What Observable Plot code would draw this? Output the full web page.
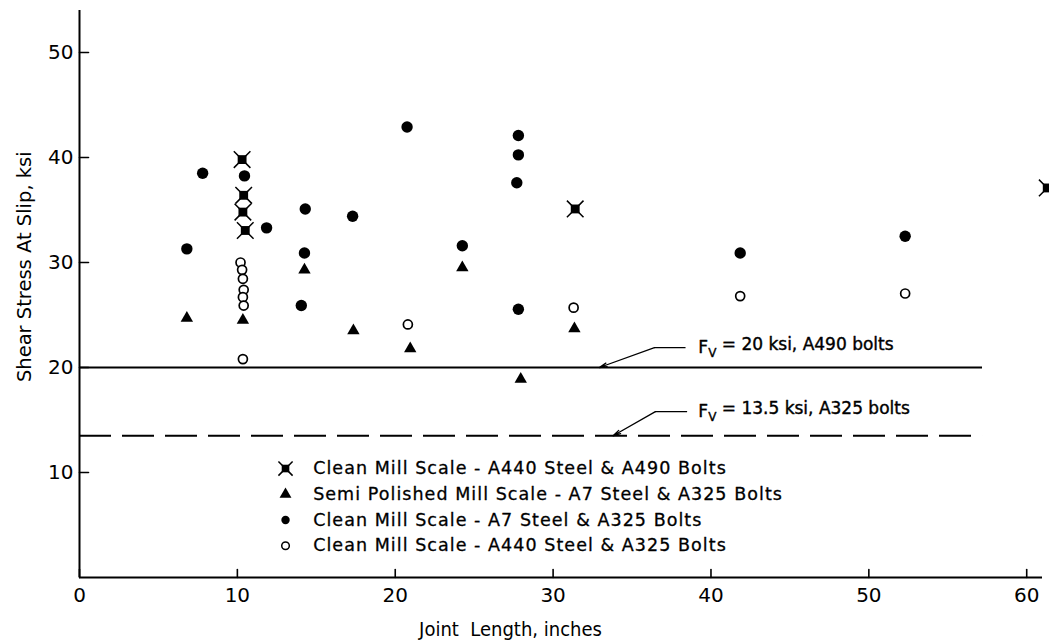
<!DOCTYPE html>
<html><head><meta charset="utf-8">
<script src="https://cdn.jsdelivr.net/npm/d3@7"></script>
<script src="https://cdn.jsdelivr.net/npm/@observablehq/plot@0.6"></script>
<style>
html,body{margin:0;padding:0;background:#fff;}
#chart{width:1049px;height:642px;overflow:hidden;}
</style></head><body><div id="chart"></div>
<script>
// ---- data (joint length in inches, shear stress at slip in ksi) ----
const a490X = [10.3, 10.4, 10.35, 10.5, 31.4, 61.3];
const a490Y = [39.8, 36.4, 34.8, 33.05, 35.1, 37.1];
const semiX = [6.8, 10.35, 14.25, 17.35, 20.95, 24.25, 27.95, 31.35];
const semiY = [24.7, 24.5, 29.3, 23.5, 21.8, 29.5, 18.9, 23.7];
const a7X = [6.8, 7.8, 10.45, 11.85, 14.3, 14.25, 14.05, 17.3, 20.75, 24.25, 27.8, 27.8, 27.7, 27.8, 41.85, 52.3];
const a7Y = [31.3, 38.5, 38.25, 33.3, 35.1, 30.9, 25.9, 34.4, 42.9, 31.6, 42.1, 40.25, 37.6, 25.55, 30.9, 32.5];
const a440X = [10.2, 10.3, 10.35, 10.4, 10.35, 10.4, 10.35, 20.8, 31.3, 41.85, 52.3];
const a440Y = [30.0, 29.3, 28.45, 27.4, 26.7, 25.9, 20.8, 24.1, 25.7, 26.8, 27.05];

// allowable shear stress lines
const allowValues = [20, 13.5];
const allowExtent = [0, 57.2];
const allowLabels = ["FV = 20 ksi, A490 bolts", "FV = 13.5 ksi, A325 bolts"];

// axes
const xTicks = [0, 10, 20, 30, 40, 50, 60];
const yTicks = [10, 20, 30, 40, 50];
const xTitle = "Joint  Length, inches";
const yTitle = "Shear Stress At Slip, ksi";

// legend
const legendLabels = [
  "Clean Mill Scale - A440 Steel & A490 Bolts",
  "Semi Polished Mill Scale - A7 Steel & A325 Bolts",
  "Clean Mill Scale - A7 Steel & A325 Bolts",
  "Clean Mill Scale - A440 Steel & A325 Bolts"
];

// ---- layout (annotation / legend anchors in data units) ----
const notes = [
  {value: 20,   tx: 39.2, ty: 21.9, hx: 38.42, hx2: 36.42, ax: 32.93},
  {value: 13.5, tx: 39.2, ty: 15.8, hx: 38.52, hx2: 36.48, ax: 33.8}
].map((n, i) => ({...n, label: allowLabels[i]}));
const legX = 13.05, legTextX = 14.8, legY0 = 10.38, legStep = 2.45;

const rows = (xs, ys) => xs.map((x, i) => ({x, y: ys[i]}));
const a490 = rows(a490X, a490Y), semi = rows(semiX, semiY), a7 = rows(a7X, a7Y), a440 = rows(a440X, a440Y);
const legend = legendLabels.map((label, i) => ({label, i, y: legY0 - i * legStep}));

const tickShape = {draw(ctx, l) { ctx.moveTo(0, 0); ctx.lineTo(0, -l); }};
const FONT = "DejaVu Sans";

const plot = Plot.plot({
  width: 1049, height: 642,
  marginLeft: 79, marginRight: 7, marginTop: 10, marginBottom: 65,
  x: {domain: [0, 61]},
  y: {domain: [0, 54]},
  style: {fontFamily: FONT, color: "black", background: "white", overflow: "visible"},
  marks: [
    Plot.axisX({ticks: xTicks, tickSize: 0, tickPadding: 10, fontSize: 20, label: null}),
    Plot.axisY({ticks: yTicks, tickSize: 0, tickPadding: 6, fontSize: 20, label: null}),
    Plot.ruleY([0], {stroke: "black", strokeWidth: 2}),
    Plot.ruleX([0], {stroke: "black", strokeWidth: 2}),
    Plot.vector(xTicks, {x: d => d, y: 0, length: 8, anchor: "start", rotate: 0, shape: tickShape, stroke: "black", strokeWidth: 1.6}),
    Plot.vector(yTicks, {x: 0, y: d => d, length: 9, anchor: "start", rotate: 90, shape: tickShape, stroke: "black", strokeWidth: 1.6}),
    // allowable lines
    Plot.ruleY([allowValues[0]], {x1: allowExtent[0], x2: allowExtent[1], stroke: "black", strokeWidth: 2.2}),
    Plot.ruleY([allowValues[1]], {x1: allowExtent[0], x2: allowExtent[1], stroke: "black", strokeWidth: 2.2, strokeDasharray: "32,11"}),
    // annotation leaders
    Plot.ruleY(notes, {y: "ty", x1: "hx", x2: "hx2", stroke: "black", strokeWidth: 1.3}),
    Plot.arrow(notes, {x1: "hx2", y1: "ty", x2: "ax", y2: "value", stroke: "black", strokeWidth: 1.3, headLength: 9, headAngle: 28}),
    Plot.text(notes, {x: "tx", y: "ty", text: "label", textAnchor: "start", fontSize: 17, fill: "black", stroke: "black", strokeWidth: 0.4}),
    // data points
    Plot.dot(a7, {x: "x", y: "y", r: 5.7, fill: "black"}),
    Plot.dot(semi, {x: "x", y: "y", symbol: "triangle", r: 4.6, fill: "black"}),
    Plot.dot(a440, {x: "x", y: "y", r: 4.5, fill: "white", stroke: "black", strokeWidth: 1.7}),
    Plot.dot(a490, {x: "x", y: "y", symbol: "square", r: 5, fill: "black"}),
    Plot.dot(a490, {x: "x", y: "y", symbol: "times", r: 7.6, stroke: "black", strokeWidth: 1.5}),
    // legend
    Plot.dot(legend.filter(d => d.i === 0), {x: legX, y: "y", symbol: "square", r: 4.3, fill: "black"}),
    Plot.dot(legend.filter(d => d.i === 0), {x: legX, y: "y", symbol: "times", r: 6.5, stroke: "black", strokeWidth: 1.5}),
    Plot.dot(legend.filter(d => d.i === 1), {x: legX, y: "y", symbol: "triangle", r: 4.4, fill: "black"}),
    Plot.dot(legend.filter(d => d.i === 2), {x: legX, y: "y", r: 4.2, fill: "black"}),
    Plot.dot(legend.filter(d => d.i === 3), {x: legX, y: "y", r: 3.8, fill: "white", stroke: "black", strokeWidth: 1.5}),
    Plot.text(legend, {x: legTextX, y: "y", text: "label", textAnchor: "start", fontSize: 17.5, fill: "black", stroke: "black", strokeWidth: 0.3}),
    // axis titles
    Plot.text([xTitle], {frameAnchor: "bottom", x: 27.3, dy: 52, text: d => d, textAnchor: "middle", lineAnchor: "middle", fontSize: 20, fontFamily: "DejaVu Sans Condensed", fill: "black"}),
    Plot.text([yTitle], {frameAnchor: "left", y: 29.6, dx: -55, rotate: -90, text: d => d, textAnchor: "middle", lineAnchor: "middle", fontSize: 19.5, fill: "black"})
  ]
});

// subscript V in the allowable-stress labels
d3.select(plot).selectAll("text").each(function() {
  const t = this.textContent;
  if (/^FV /.test(t)) {
    const el = d3.select(this);
    el.text(null);
    el.append("tspan").text("F");
    el.append("tspan").attr("dy", "0.35em").attr("font-size", "12").text("V");
    el.append("tspan").attr("dy", "-0.45em").text(t.slice(2));
  }
});
// letter spacing for legend text
d3.select(plot).selectAll("text").filter(function() { return legendLabels.includes(this.textContent); })
  .style("letter-spacing", "1.05px");

document.getElementById("chart").append(plot);
</script></body></html>
